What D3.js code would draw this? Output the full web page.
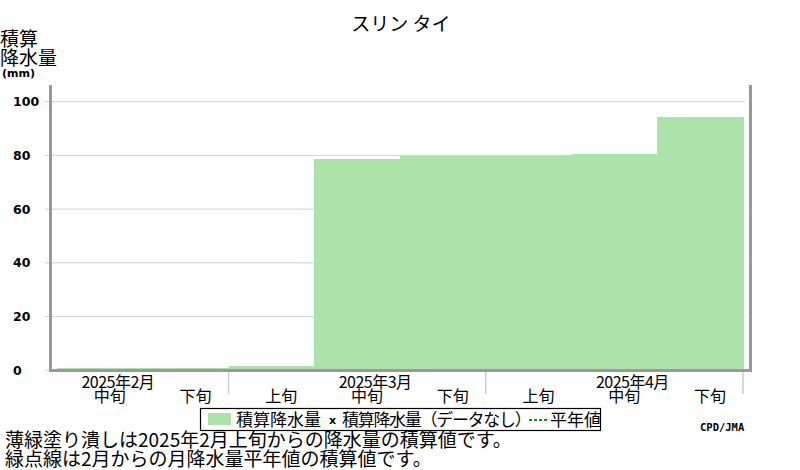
<!DOCTYPE html>
<html lang="ja">
<head>
<meta charset="UTF-8">
<title>スリン タイ</title>
<script src="https://d3js.org/d3.v7.min.js"></script>
<style>
  body { margin: 0; background: #fff; }
  text { font-family: "Noto Sans CJK JP", "Noto Sans", sans-serif; fill: #000; }
  .num { font-family: "DejaVu Sans", sans-serif; font-weight: bold; }
</style>
</head>
<body>
<svg width="800" height="470"></svg>
<script>
// dekads shown on the x axis
const periodMonth = ['2025年2月', '2025年2月', '2025年3月', '2025年3月', '2025年3月', '2025年4月', '2025年4月', '2025年4月'];
const periodDekad = ['中旬', '下旬', '上旬', '中旬', '下旬', '上旬', '中旬', '下旬'];
// cumulative precipitation (mm)
const cumPrecip = [0.8, 0.8, 1.7, 78.6, 79.8, 79.8, 80.6, 94.2];
const yTicks = [0, 20, 40, 60, 80, 100];

const svg = d3.select('svg');
const green = '#abe3aa';
const axisGray = '#999';

const x = d3.scaleBand().domain(d3.range(cumPrecip.length)).range([57, 743]);
const y = d3.scaleLinear().domain([0, 106.2]).range([370.3, 85]);

// title
svg.append('text').attr('x', 401).attr('y', 31).attr('text-anchor', 'middle')
  .style('font-size', '19px').text('スリン タイ');

// y title
svg.append('text').attr('x', 0).attr('y', 46).style('font-size', '19px').text('積算');
svg.append('text').attr('x', 0).attr('y', 65).style('font-size', '19px').text('降水量');
svg.append('text').attr('x', 2).attr('y', 77).attr('class', 'num')
  .style('font-size', '11px').text('(mm)');

// grid + ticks
svg.append('g').selectAll('line').data(yTicks).join('line')
  .attr('x1', 45).attr('x2', d => d === 0 ? 50 : 745)
  .attr('y1', d => y(d)).attr('y2', d => y(d))
  .attr('stroke', '#d0d0d0').attr('stroke-width', 1);

svg.append('g').selectAll('text').data(yTicks).join('text')
  .attr('class', 'num').attr('x', 13).attr('y', d => y(d))
  .attr('dominant-baseline', 'central')
  .style('font-size', '12.5px').text(d => d);

// bars
svg.append('g').attr('shape-rendering', 'crispEdges')
  .selectAll('rect').data(cumPrecip).join('rect')
  .attr('x', (d, i) => x(i)).attr('width', x.bandwidth() + 0.5)
  .attr('y', d => y(d)).attr('height', d => y(0) - y(d))
  .attr('fill', green);

// frame
const frame = svg.append('g').attr('stroke', axisGray).attr('stroke-width', 3);
frame.append('line').attr('x1', 50.5).attr('x2', 50.5).attr('y1', 85).attr('y2', 372);
frame.append('line').attr('x1', 750.5).attr('x2', 750.5).attr('y1', 85).attr('y2', 372);
frame.append('line').attr('x1', 49).attr('x2', 752).attr('y1', 370.5).attr('y2', 370.5);

// month separators at the end of each month
const monthEnds = d3.range(cumPrecip.length).filter(i => periodMonth[i] !== periodMonth[i + 1]);
svg.append('g').selectAll('line').data(monthEnds).join('line')
  .attr('x1', i => x(i) + x.bandwidth()).attr('x2', i => x(i) + x.bandwidth())
  .attr('y1', 372).attr('y2', 394)
  .attr('stroke', '#ccc').attr('stroke-width', 1.5);

// dekad labels
svg.append('g').selectAll('text').data(periodDekad).join('text')
  .attr('x', (d, i) => x(i) + x.bandwidth() / 2 + 10).attr('y', 402)
  .attr('text-anchor', 'middle').style('font-size', '16px').text(d => d);

// month labels over the 中旬 of each month
const monthMid = d3.range(cumPrecip.length).filter(i => periodDekad[i] === '中旬');
svg.append('g').selectAll('text').data(monthMid).join('text')
  .attr('x', i => x(i) + x.bandwidth() / 2 + 18).attr('y', 388)
  .attr('text-anchor', 'middle').style('font-size', '16px')
  .style('letter-spacing', '-0.5px').text(i => periodMonth[i]);

// legend
const lg = svg.append('g');
lg.append('rect').attr('x', 200.5).attr('y', 408.5).attr('width', 400).attr('height', 22)
  .attr('fill', '#fff').attr('stroke', '#000').attr('stroke-width', 1.2);
lg.append('rect').attr('x', 208).attr('y', 413).attr('width', 23).attr('height', 12).attr('fill', green);
lg.append('text').attr('x', 236).attr('y', 426).style('font-size', '17px').text('積算降水量');
lg.append('text').attr('x', 329).attr('y', 424).attr('class', 'num').style('font-size', '11px').text('x');
lg.append('text').attr('x', 342).attr('y', 426).style('font-size', '17px')
  .style('letter-spacing', '-1.3px').text('積算降水量（データなし）');
lg.append('line').attr('x1', 529).attr('x2', 547).attr('y1', 420).attr('y2', 420)
  .attr('stroke', '#1a8a1a').attr('stroke-width', 2).attr('stroke-dasharray', '3,2');
lg.append('text').attr('x', 550).attr('y', 426).style('font-size', '17px').text('平年値');

// credit
svg.append('text').attr('x', 700).attr('y', 431)
  .style('font-family', '"DejaVu Sans Mono", monospace').style('font-weight', 'bold')
  .style('font-size', '10.5px').text('CPD/JMA');

// notes
svg.append('text').attr('x', 5).attr('y', 447).style('font-size', '19px')
  .text('薄緑塗り潰しは2025年2月上旬からの降水量の積算値です。');
svg.append('text').attr('x', 5).attr('y', 466).style('font-size', '19px')
  .text('緑点線は2月からの月降水量平年値の積算値です。');
</script>
</body>
</html>
